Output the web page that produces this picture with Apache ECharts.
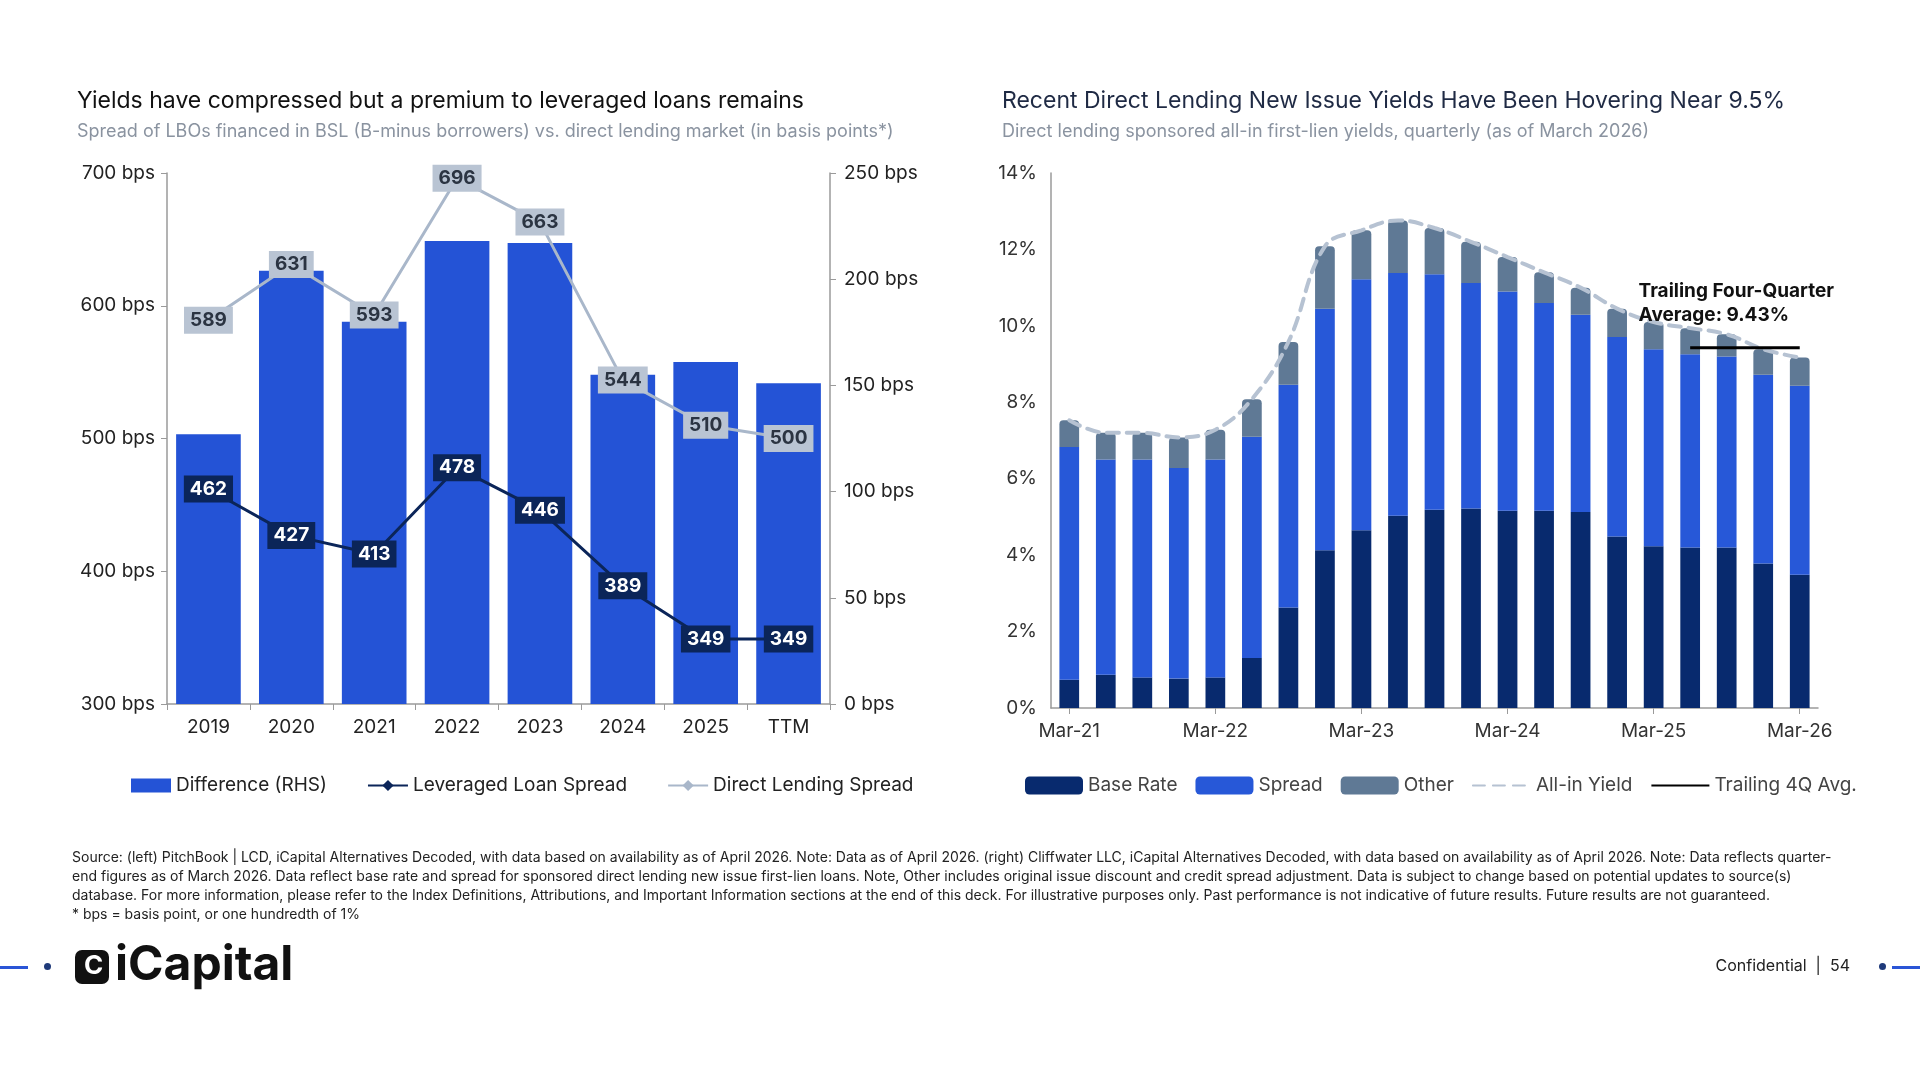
<!DOCTYPE html>
<html>
<head>
<meta charset="utf-8">
<script src="https://cdn.jsdelivr.net/npm/echarts@6/dist/echarts.min.js"></script>
<style>html,body{margin:0;padding:0;background:#fff}#main{width:1920px;height:1080px}</style>
</head>
<body>
<div id="main"></div>
<script>
// left chart data (bps)
var years = ['2019', '2020', '2021', '2022', '2023', '2024', '2025', 'TTM'];
var directSpread = [589, 631, 593, 696, 663, 544, 510, 500];
var leveragedSpread = [462, 427, 413, 478, 446, 389, 349, 349];
var difference = [127, 204, 180, 218, 217, 155, 161, 151];

// right chart data (%)
var quarters = ['Mar-21', 'Jun-21', 'Sep-21', 'Dec-21', 'Mar-22', 'Jun-22', 'Sep-22', 'Dec-22', 'Mar-23', 'Jun-23', 'Sep-23', 'Dec-23', 'Mar-24', 'Jun-24', 'Sep-24', 'Dec-24', 'Mar-25', 'Jun-25', 'Sep-25', 'Dec-25', 'Mar-26'];
var baseRate = [0.74, 0.87, 0.80, 0.77, 0.80, 1.31, 2.63, 4.13, 4.65, 5.03, 5.19, 5.22, 5.16, 5.16, 5.13, 4.49, 4.23, 4.20, 4.20, 3.78, 3.49];
var spread = [6.09, 5.63, 5.70, 5.51, 5.70, 5.79, 5.83, 6.32, 6.57, 6.35, 6.16, 5.90, 5.74, 5.44, 5.16, 5.22, 5.16, 5.06, 5.00, 4.94, 4.94];
var other = [0.70, 0.70, 0.70, 0.80, 0.78, 0.98, 1.12, 1.63, 1.28, 1.38, 1.21, 1.08, 0.90, 0.80, 0.71, 0.74, 0.71, 0.68, 0.58, 0.67, 0.74];
var allInYield = [7.53, 7.20, 7.20, 7.08, 7.28, 8.08, 9.58, 12.08, 12.50, 12.76, 12.56, 12.20, 11.80, 11.40, 11.00, 10.45, 10.10, 9.94, 9.78, 9.39, 9.17];
var trailingAvg = [null, null, null, null, null, null, null, null, null, null, null, null, null, null, null, null, null, 9.43, 9.43, 9.43, 9.43];

var FONT = 'Inter, "Noto Sans", sans-serif';
var axisTxt = { color: '#222', fontSize: 19, fontFamily: FONT };
var axisLn = { show: true, lineStyle: { color: '#9a9a9a', width: 1.5 } };

var chart = echarts.init(document.getElementById('main'));
var footer = [
  'Source: (left) PitchBook | LCD, iCapital Alternatives Decoded, with data based on availability as of April 2026. Note: Data as of April 2026. (right) Cliffwater LLC, iCapital Alternatives Decoded, with data based on availability as of April 2026. Note: Data reflects quarter-',
  'end figures as of March 2026. Data reflect base rate and spread for sponsored direct lending new issue first-lien loans. Note, Other includes original issue discount and credit spread adjustment. Data is subject to change based on potential updates to source(s)',
  'database. For more information, please refer to the Index Definitions, Attributions, and Important Information sections at the end of this deck. For illustrative purposes only. Past performance is not indicative of future results. Future results are not guaranteed.',
  '* bps = basis point, or one hundredth of 1%'
].join('\n');

var option = {
  backgroundColor: '#fff',
  animation: false,
  textStyle: { fontFamily: FONT },
  title: [
    { text: 'Yields have compressed but a premium to leveraged loans remains', left: 72, top: 85,
      textStyle: { fontSize: 23, fontWeight: 'normal', color: '#111', fontFamily: FONT },
      subtext: 'Spread of LBOs financed in BSL (B-minus borrowers) vs. direct lending market (in basis points*)',
      subtextStyle: { fontSize: 18, color: '#8a93a0', fontFamily: FONT }, itemGap: 10 },
    { text: 'Recent Direct Lending New Issue Yields Have Been Hovering Near 9.5%', left: 997, top: 85,
      textStyle: { fontSize: 23, fontWeight: 'normal', color: '#1f2a44', fontFamily: FONT },
      subtext: 'Direct lending sponsored all-in first-lien yields, quarterly (as of March 2026)',
      subtextStyle: { fontSize: 18, color: '#8a93a0', fontFamily: FONT }, itemGap: 10 }
  ],
  legend: [
    { left: 126, top: 771, itemWidth: 40, itemHeight: 14, itemGap: 40,
      textStyle: { fontSize: 19, color: '#222', fontFamily: FONT },
      data: [{ name: 'Difference (RHS)', icon: 'rect' }, 'Leveraged Loan Spread', 'Direct Lending Spread'] },
    { left: 1020, top: 771, itemWidth: 58, itemHeight: 18, itemGap: 18,
      textStyle: { fontSize: 19, color: '#444', fontFamily: FONT },
      data: [{ name: 'Base Rate', icon: 'roundRect' }, { name: 'Spread', icon: 'roundRect' }, { name: 'Other', icon: 'roundRect' },
        { name: 'All-in Yield', itemStyle: { opacity: 0 } }, { name: 'Trailing 4Q Avg.', itemStyle: { opacity: 0 } }] }
  ],
  grid: [
    { left: 167, right: 1920 - 830, top: 173, bottom: 1080 - 704 },
    { left: 1051, right: 1920 - 1818, top: 173, bottom: 1080 - 708 }
  ],
  xAxis: [
    { type: 'category', gridIndex: 0, data: years, axisLine: axisLn,
      axisTick: { show: true, alignWithLabel: false, length: 6, lineStyle: { color: '#9a9a9a' } },
      axisLabel: Object.assign({ margin: 14 }, axisTxt) },
    { type: 'category', gridIndex: 1, data: quarters, axisLine: axisLn,
      axisTick: { show: true, interval: 3, alignWithLabel: true, length: 6, lineStyle: { color: '#9a9a9a' } },
      axisLabel: { interval: 3, margin: 14, color: '#333', fontSize: 19, fontFamily: FONT } }
  ],
  yAxis: [
    { type: 'value', gridIndex: 0, min: 300, max: 700, interval: 100, splitLine: { show: false },
      axisLine: axisLn, axisTick: { show: true, length: 6, lineStyle: { color: '#9a9a9a' } },
      axisLabel: Object.assign({ formatter: '{value} bps', margin: 12 }, axisTxt) },
    { type: 'value', gridIndex: 0, position: 'right', min: 0, max: 250, interval: 50, splitLine: { show: false },
      axisLine: axisLn, axisTick: { show: true, length: 6, lineStyle: { color: '#9a9a9a' } },
      axisLabel: Object.assign({ formatter: '{value} bps', margin: 14 }, axisTxt) },
    { type: 'value', gridIndex: 1, min: 0, max: 14, interval: 2, splitLine: { show: false },
      axisLine: axisLn, axisTick: { show: false },
      axisLabel: { formatter: '{value}%', margin: 14, fontSize: 19, color: '#333', fontFamily: FONT } }
  ],
  series: [
    { name: 'Difference (RHS)', type: 'bar', xAxisIndex: 0, yAxisIndex: 1, data: difference,
      barCategoryGap: '22%', itemStyle: { color: '#2453d6' }, z: 1 },
    { name: 'Leveraged Loan Spread', type: 'line', xAxisIndex: 0, yAxisIndex: 0, data: leveragedSpread,
      symbol: 'diamond', symbolSize: 12, lineStyle: { color: '#0b2559', width: 3 }, itemStyle: { color: '#0b2559' },
      label: { show: true, position: 'inside', color: '#fff', fontSize: 19, fontWeight: 'bold', fontFamily: FONT,
        backgroundColor: '#0b2559', padding: [5, 6, 3, 6] }, z: 5 },
    { name: 'Direct Lending Spread', type: 'line', xAxisIndex: 0, yAxisIndex: 0, data: directSpread,
      symbol: 'diamond', symbolSize: 12, lineStyle: { color: '#a9b7ca', width: 3 }, itemStyle: { color: '#a9b7ca' },
      label: { show: true, position: 'inside', color: '#2b3442', fontSize: 19, fontWeight: 'bold', fontFamily: FONT,
        backgroundColor: '#b9c4d3', padding: [5, 6, 3, 6] }, z: 5 },
    { name: 'Base Rate', type: 'bar', stack: 'y', xAxisIndex: 1, yAxisIndex: 2, data: baseRate,
      barCategoryGap: '46%', itemStyle: { color: '#082a6e' } },
    { name: 'Spread', type: 'bar', stack: 'y', xAxisIndex: 1, yAxisIndex: 2, data: spread,
      itemStyle: { color: '#2758d8' } },
    { name: 'Other', type: 'bar', stack: 'y', xAxisIndex: 1, yAxisIndex: 2, data: other,
      itemStyle: { color: '#5f7995', borderRadius: [4, 4, 0, 0] } },
    { name: 'All-in Yield', type: 'line', xAxisIndex: 1, yAxisIndex: 2, data: allInYield, smooth: 0.4,
      symbol: 'none', lineStyle: { color: '#b6c2d2', width: 4, type: [12, 8], cap: 'round' }, itemStyle: { color: '#b6c2d2' }, z: 5 },
    { name: 'Trailing 4Q Avg.', type: 'line', xAxisIndex: 1, yAxisIndex: 2, data: trailingAvg,
      symbol: 'none', lineStyle: { color: '#000', width: 3 }, itemStyle: { color: '#000' }, z: 6 }
  ],
  graphic: [
    { type: 'text', right: 86, top: 279, z: 100, style: { text: 'Trailing Four-Quarter\nAverage: 9.43%', align: 'right',
      font: 'bold 19px ' + FONT, fill: '#111', lineHeight: 24 } },
    { type: 'text', left: 72, top: 848, style: { text: footer, font: '14px ' + FONT, fill: '#222', lineHeight: 19 } },
    { type: 'rect', left: 0, top: 966, shape: { width: 28, height: 3 }, style: { fill: '#2a55d6' } },
    { type: 'circle', left: 44, top: 963, shape: { r: 3.5 }, style: { fill: '#1f3a7a' } },
    { type: 'rect', left: 75, top: 950, shape: { width: 34, height: 34, r: 7 }, style: { fill: '#111' } },
    { type: 'text', left: 84, top: 953, style: { text: 'C', font: 'bold 26px ' + FONT, fill: '#fff' } },
    { type: 'text', left: 115, top: 942, style: { text: 'iCapital', font: 'bold 48px ' + FONT, fill: '#111' } },
    { type: 'text', right: 70, top: 958, style: { text: 'Confidential  |  54', font: '16px ' + FONT, fill: '#222', align: 'right' } },
    { type: 'circle', right: 34, top: 963, shape: { r: 3.5 }, style: { fill: '#1f3a7a' } },
    { type: 'rect', right: 0, top: 966, shape: { width: 28, height: 3 }, style: { fill: '#2a55d6' } }
  ]
};
chart.setOption(option);
</script>
</body>
</html>
